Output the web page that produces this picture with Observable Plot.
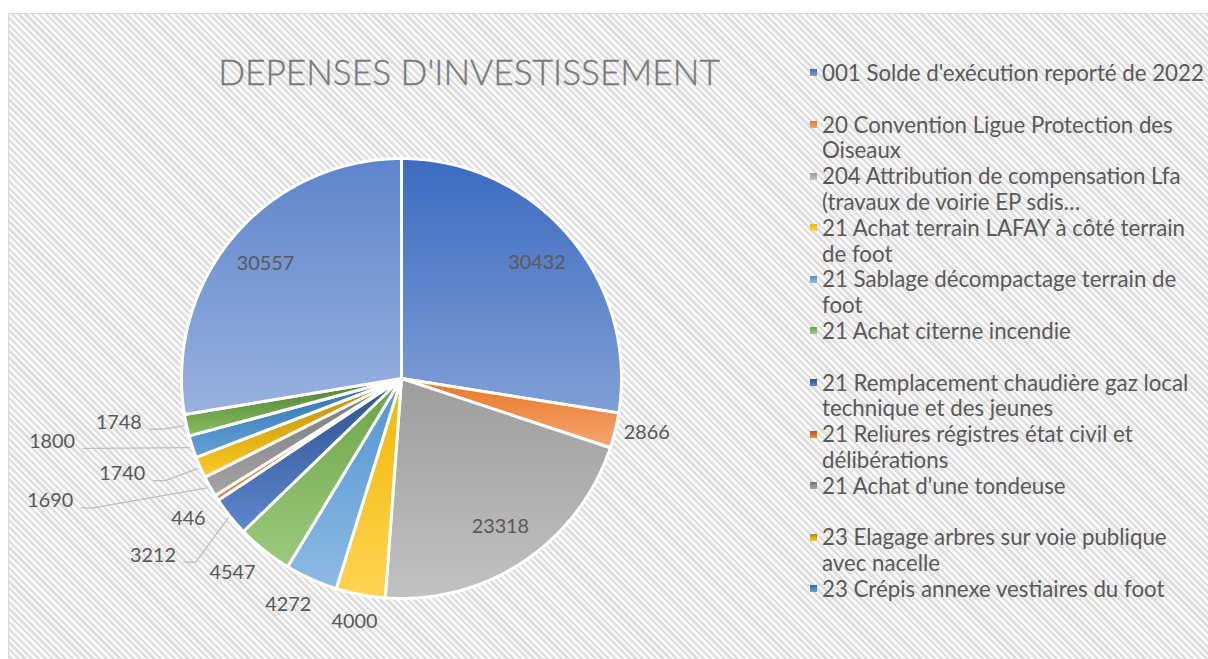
<!DOCTYPE html>
<html><head><meta charset="utf-8">
<script src="https://cdn.jsdelivr.net/npm/d3@7"></script>
<script src="https://cdn.jsdelivr.net/npm/@observablehq/plot@0.6"></script>
<style>
html,body{margin:0;padding:0;background:#fff;}
#root{position:relative;width:1208px;height:659px;overflow:hidden;}
#bg{position:absolute;left:8px;top:13px;width:1230px;height:700px;border:1px solid #d9d9d9;box-sizing:border-box;
  background:repeating-linear-gradient(45deg,#dedede 0px,#dedede 2.3px,#f9f9f9 2.3px,#f9f9f9 4.8px);}
#chart{position:absolute;left:0;top:0;}
#legend{position:absolute;left:808px;top:60.1px;width:400px;}
.item{position:relative;height:51.6px;}
.mk{position:absolute;left:2px;top:9.4px;width:7px;height:7px;}
.tx{position:absolute;left:14px;top:0;width:388px;line-height:25.8px;color:#595959;font-family:Lato,sans-serif;white-space:normal;}
</style></head><body>
<div id="root"><div id="bg"></div><div id="chart"></div><div id="legend"></div></div>
<script>
// ---- data ----
const title = "DEPENSES D'INVESTISSEMENT";
const categories = [
  "001 Solde d'exécution reporté de 2022",
  "20 Convention Ligue Protection des Oiseaux",
  "204 Attribution de compensation Lfa (travaux de voirie EP sdis…",
  "21 Achat terrain LAFAY à côté terrain de foot",
  "21 Sablage décompactage terrain de foot",
  "21 Achat citerne incendie",
  "21 Remplacement chaudière gaz local technique et des jeunes",
  "21 Reliures régistres état civil et délibérations",
  "21 Achat d'une tondeuse",
  "23 Elagage arbres sur voie publique avec nacelle",
  "23 Crépis annexe vestiaires du foot"
];
const values = [30432, 2866, 23318, 4000, 4272, 4547, 3212, 446, 1690, 1740, 1800, 1748, 30557];
const colors = ["#4472C4","#ED7D31","#A5A5A5","#FFC000","#5B9BD5","#70AD47",
                "#2F5597","#C55A11","#7B7B7B","#BF9000","#2E75B6","#548235","#698ED0"];

// ---- layout ----
const W = 1208, H = 659, cx = 401, cy = 378, R = 220;
const canvas = document.createElement("canvas"), ctx = canvas.getContext("2d");
function fit(text, weight, family, target) {
  ctx.font = `${weight} 100px ${family}`;
  return 100 * target / ctx.measureText(text).width;
}
const numSize = fit("2866", 400, "Lato", 46);
const legSize = fit(categories[0], 400, "Lato", 382);
const titleSize = fit(title, 300, "Lato", 502);

const shadeTop = (c) => { const h = d3.hsl(c); h.l = h.l * 0.95; return h.formatHex(); };
const tintBot = (c) => { const h = d3.hsl(c); h.l = h.l + (1 - h.l) * 0.32; return h.formatHex(); };

const total = d3.sum(values);
const arcs = d3.pie().sort(null).value(d => d)(values);

const slices = arcs.map((p, i) => {
  const pts = [{x: 0, y: 0, i}];
  const n = Math.max(2, Math.ceil((p.endAngle - p.startAngle) / 0.01));
  for (let k = 0; k <= n; k++) {
    const a = p.startAngle + (p.endAngle - p.startAngle) * k / n;
    pts.push({x: R * Math.sin(a), y: R * Math.cos(a), i});
  }
  pts.push({x: 0, y: 0, i});
  return pts;
});

// data-label placement outside the pie (polar: distance px, degrees clockwise from top)
const placed = {1: [251, 102.4], 3: [248, 190.9], 4: [253, 206.6], 5: [257, 221.1],
                6: [305, 234.6], 7: [255, 236.7], 8: [372, 250.8], 9: [295, 251.2], 10: [355, 259.8], 11: [286, 261.2]};
const withLeader = new Set([6, 8, 9, 10, 11]);
const labels = arcs.map((p, i) => {
  const mid = (p.startAngle + p.endAngle) / 2;
  let x, y;
  if (placed[i]) {
    const [r, deg] = placed[i], a = deg * Math.PI / 180;
    x = r * Math.sin(a); y = r * Math.cos(a);
  } else if (p.value / total > 0.1) {
    x = 0.81 * R * Math.sin(mid); y = 0.81 * R * Math.cos(mid);
  } else {
    const r = R + 14;
    x = r * Math.sin(mid) + Math.sin(mid) * 22;
    y = r * Math.cos(mid) + Math.cos(mid) * 12;
  }
  return {x, y, text: String(values[i]), i, mid};
});
const leaders = [];
labels.forEach(l => {
  if (!withLeader.has(l.i)) return;
  leaders.push({x: l.x + 31, y: l.y - 7, i: l.i});
  leaders.push({x: l.x + 43, y: l.y - 7, i: l.i});
  leaders.push({x: (R + 3) * Math.sin(l.mid), y: (R + 3) * Math.cos(l.mid), i: l.i});
});

const marks = [
  ...slices.map((pts, i) => Plot.line(pts, {x: "x", y: "y", fill: `url(#g${i})`, stroke: "white", strokeWidth: 3, strokeLinejoin: "round"})),
  Plot.line(leaders, {x: "x", y: "y", z: "i", stroke: "#bfbfbf", strokeWidth: 1.3}),
  Plot.text(labels, {x: "x", y: "y", text: "text", fill: "#595959", fontSize: numSize, fontFamily: "Lato"})
];

const svg = Plot.plot({
  width: W, height: H, margin: 0,
  x: {domain: [-cx, W - cx], axis: null},
  y: {domain: [-(H - cy), cy], axis: null},
  style: {background: "transparent", overflow: "visible"},
  marks
});

const s = d3.select(svg);
const defs = s.insert("defs", ":first-child");
colors.forEach((c, i) => {
  const g = defs.append("linearGradient").attr("id", `g${i}`).attr("x1", 0).attr("y1", 0).attr("x2", 0).attr("y2", 1);
  g.append("stop").attr("offset", "0%").attr("stop-color", shadeTop(c));
  g.append("stop").attr("offset", "100%").attr("stop-color", tintBot(c));
});
s.append("text").attr("x", 469).attr("y", 85).attr("text-anchor", "middle")
  .attr("font-family", "Lato").attr("font-weight", 300).attr("font-size", titleSize)
  .attr("fill", "#7a7a7a").attr("stroke", "#7a7a7a").attr("stroke-width", 0.4).text(title);
document.getElementById("chart").appendChild(svg);

// legend
const leg = d3.select("#legend");
categories.forEach((name, i) => {
  const it = leg.append("div").attr("class", "item");
  it.append("div").attr("class", "mk").style("background", `linear-gradient(${shadeTop(colors[i])}, ${tintBot(colors[i])})`);
  it.append("div").attr("class", "tx").style("font-size", legSize + "px").text(name);
});
</script>
</body></html>
